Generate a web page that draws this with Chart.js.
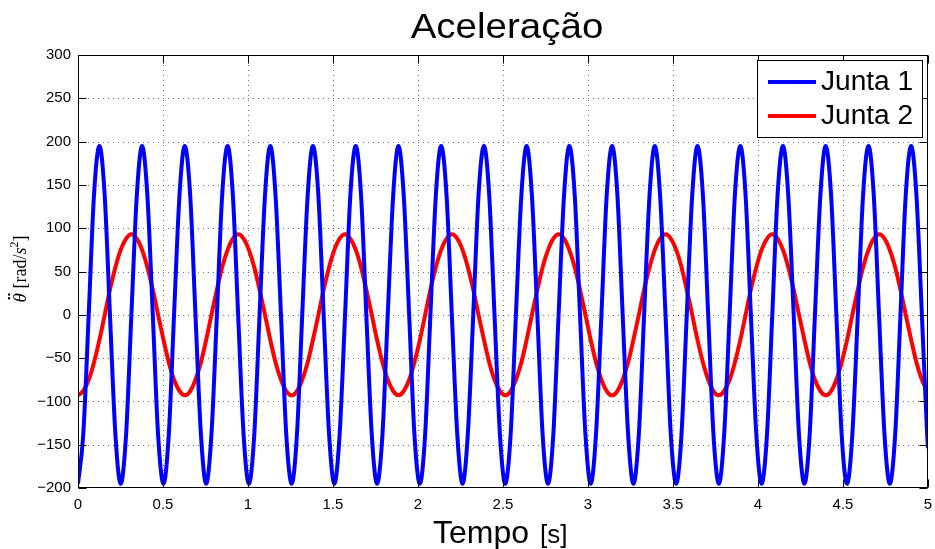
<!DOCTYPE html>
<html>
<head>
<meta charset="utf-8">
<title>Aceleração</title>
<script src="https://cdn.jsdelivr.net/npm/chart.js"></script>
<style>
  html, body { margin: 0; padding: 0; background: #fff; }
  #chart { display: block; }
</style>
</head>
<body>
<canvas id="chart" width="935" height="549"></canvas>
<script>
const time = [
  0.000, 0.031, 0.063, 0.094, 0.126, 0.157, 0.188, 0.220, 0.251, 0.283,
  0.314, 0.346, 0.377, 0.408, 0.440, 0.471, 0.503, 0.534, 0.565, 0.597,
  0.628, 0.660, 0.691, 0.723, 0.754, 0.785, 0.817, 0.848, 0.880, 0.911,
  0.942, 0.974, 1.005, 1.037, 1.068, 1.100, 1.131, 1.162, 1.194, 1.225,
  1.257, 1.288, 1.319, 1.351, 1.382, 1.414, 1.445, 1.477, 1.508, 1.539,
  1.571, 1.602, 1.634, 1.665, 1.696, 1.728, 1.759, 1.791, 1.822, 1.854,
  1.885, 1.916, 1.948, 1.979, 2.011, 2.042, 2.073, 2.105, 2.136, 2.168,
  2.199, 2.231, 2.262, 2.293, 2.325, 2.356, 2.388, 2.419, 2.450, 2.482,
  2.513, 2.545, 2.576, 2.608, 2.639, 2.670, 2.702, 2.733, 2.765, 2.796,
  2.827, 2.859, 2.890, 2.922, 2.953, 2.985, 3.016, 3.047, 3.079, 3.110,
  3.142, 3.173, 3.204, 3.236, 3.267, 3.299, 3.330, 3.362, 3.393, 3.424,
  3.456, 3.487, 3.519, 3.550, 3.581, 3.613, 3.644, 3.676, 3.707, 3.738,
  3.770, 3.801, 3.833, 3.864, 3.896, 3.927, 3.958, 3.990, 4.021, 4.053,
  4.084, 4.115, 4.147, 4.178, 4.210, 4.241, 4.273, 4.304, 4.335, 4.367,
  4.398, 4.430, 4.461, 4.492, 4.524, 4.555, 4.587, 4.618, 4.650, 4.681,
  4.712, 4.744, 4.775, 4.807, 4.838, 4.869, 4.901, 4.932, 4.964, 4.995,
  5.000
];

// Junta 1 (blue)
const junta1 = [
  -195, -138, 0, 138, 195, 138, 0, -138,
  -195, -138, 0, 138, 195, 138, 0, -138,
  -195, -138, 0, 138, 195, 138, 0, -138,
  -195, -138, 0, 138, 195, 138, 0, -138,
  -195, -138, 0, 138, 195, 138, 0, -138,
  -195, -138, 0, 138, 195, 138, 0, -138,
  -195, -138, 0, 138, 195, 138, 0, -138,
  -195, -138, 0, 138, 195, 138, 0, -138,
  -195, -138, 0, 138, 195, 138, 0, -138,
  -195, -138, 0, 138, 195, 138, 0, -138,
  -195, -138, 0, 138, 195, 138, 0, -138,
  -195, -138, 0, 138, 195, 138, 0, -138,
  -195, -138, 0, 138, 195, 138, 0, -138,
  -195, -138, 0, 138, 195, 138, 0, -138,
  -195, -138, 0, 138, 195, 138, 0, -138,
  -195, -138, 0, 138, 195, 138, 0, -138,
  -195, -138, 0, 138, 195, 138, 0, -138,
  -195, -138, 0, 138, 195, 138, 0, -138,
  -195, -138, 0, 138, 195, 138, 0, -138,
  -195, -138, 0, 138, 195, 138, 0, -138,
  -154
];

// Junta 2 (red)
const junta2 = [
  -93, -88, -75, -55, -29, 0, 29, 55, 75, 88, 93, 88, 75, 55, 29, 0, -29, -55, -75, -88,
  -93, -88, -75, -55, -29, 0, 29, 55, 75, 88, 93, 88, 75, 55, 29, 0, -29, -55, -75, -88,
  -93, -88, -75, -55, -29, 0, 29, 55, 75, 88, 93, 88, 75, 55, 29, 0, -29, -55, -75, -88,
  -93, -88, -75, -55, -29, 0, 29, 55, 75, 88, 93, 88, 75, 55, 29, 0, -29, -55, -75, -88,
  -93, -88, -75, -55, -29, 0, 29, 55, 75, 88, 93, 88, 75, 55, 29, 0, -29, -55, -75, -88,
  -93, -88, -75, -55, -29, 0, 29, 55, 75, 88, 93, 88, 75, 55, 29, 0, -29, -55, -75, -88,
  -93, -88, -75, -55, -29, 0, 29, 55, 75, 88, 93, 88, 75, 55, 29, 0, -29, -55, -75, -88,
  -93, -88, -75, -55, -29, 0, 29, 55, 75, 88, 93, 88, 75, 55, 29, 0, -29, -55, -75, -88,
  -90
];

const seriesNames = ['Junta 1', 'Junta 2'];
const seriesColors = ['#0000ff', '#ff0000'];
const xTicks = [0, 0.5, 1, 1.5, 2, 2.5, 3, 3.5, 4, 4.5, 5];
const yTicks = [-200, -150, -100, -50, 0, 50, 100, 150, 200, 250, 300];

const SANS = '"Liberation Sans", Arial, Helvetica, sans-serif';
const SERIF = '"Liberation Serif", "Times New Roman", serif';

// ── helpers
function stretchedText(ctx, txt, x, y, sx, align) {
  ctx.save();
  ctx.translate(x, y);
  ctx.scale(sx, 1);
  ctx.textAlign = align || 'left';
  ctx.fillText(txt, 0, 0);
  ctx.restore();
}

// ── grid behind the curves (MATLAB dotted grid)
const gridPlugin = {
  id: 'matlabGrid',
  beforeDatasetsDraw(chart) {
    const { ctx, chartArea: a, scales: { x, y } } = chart;
    ctx.save();
    ctx.strokeStyle = 'rgba(0,0,0,0.55)';
    ctx.lineWidth = 1;
    ctx.setLineDash([1, 4]);
    xTicks.forEach(v => {
      const px = Math.round(x.getPixelForValue(v)) + 0.5;
      if (px <= a.left + 1 || px >= a.right - 1) return;
      ctx.beginPath(); ctx.moveTo(px, a.top); ctx.lineTo(px, a.bottom); ctx.stroke();
    });
    yTicks.forEach(v => {
      const py = Math.round(y.getPixelForValue(v)) + 0.5;
      if (py <= a.top + 1 || py >= a.bottom - 1) return;
      ctx.beginPath(); ctx.moveTo(a.left, py); ctx.lineTo(a.right, py); ctx.stroke();
    });
    ctx.restore();
  }
};

// ── box, inside ticks, title, axis labels, legend
const decorPlugin = {
  id: 'matlabDecor',
  afterDatasetsDraw(chart) {
    const { ctx, chartArea: a, scales: { x, y } } = chart;
    const L = Math.round(a.left) + 0.5, R = Math.round(a.right) - 0.5;
    const T = Math.round(a.top) + 0.5, B = Math.round(a.bottom) - 0.5;
    ctx.save();
    ctx.strokeStyle = '#000';
    ctx.lineWidth = 1;
    ctx.setLineDash([]);

    // inside tick marks
    const tl = 8;
    xTicks.forEach(v => {
      const px = Math.round(x.getPixelForValue(v)) + 0.5;
      ctx.beginPath();
      ctx.moveTo(px, B); ctx.lineTo(px, B - tl);
      ctx.moveTo(px, T); ctx.lineTo(px, T + tl);
      ctx.stroke();
    });
    yTicks.forEach(v => {
      const py = Math.round(y.getPixelForValue(v)) + 0.5;
      ctx.beginPath();
      ctx.moveTo(L, py); ctx.lineTo(L + tl, py);
      ctx.moveTo(R, py); ctx.lineTo(R - tl, py);
      ctx.stroke();
    });

    // axes box
    ctx.strokeRect(L, T, R - L, B - T);

    // title
    ctx.fillStyle = '#000';
    ctx.textBaseline = 'alphabetic';
    ctx.font = '35px ' + SANS;
    stretchedText(ctx, 'Aceleração', 507, 38, 1.1, 'center');

    // x label
    ctx.font = '32px ' + SANS;
    ctx.textAlign = 'left';
    ctx.fillText('Tempo', 433, 543);
    ctx.font = '26px ' + SANS;
    ctx.fillText('[s]', 540, 543);

    // y label (rotated)
    ctx.save();
    ctx.translate(26, 269);
    ctx.rotate(-Math.PI / 2);
    const parts = [
      { t: 'θ', f: 'italic 19px ' + SERIF, dy: 0 },
      { t: ' [rad/', f: '18px ' + SERIF, dy: 0 },
      { t: 's', f: 'italic 18px ' + SERIF, dy: 0 },
      { t: '2', f: '12px ' + SERIF, dy: -8 },
      { t: ']', f: '18px ' + SERIF, dy: 0 }
    ];
    let total = 0;
    parts.forEach(p => { ctx.font = p.f; p.w = ctx.measureText(p.t).width; total += p.w; });
    let cx = -total / 2;
    ctx.textAlign = 'left';
    parts.forEach((p, i) => {
      ctx.font = p.f;
      ctx.fillText(p.t, cx, p.dy);
      if (i === 0) {
        // double dot over theta
        ctx.beginPath();
        ctx.arc(cx + p.w * 0.45, -17, 1.2, 0, Math.PI * 2);
        ctx.arc(cx + p.w * 0.85, -17, 1.2, 0, Math.PI * 2);
        ctx.fill();
      }
      cx += p.w;
    });
    ctx.restore();

    // legend
    const lx = 757.5, ly = 60.5, lw = 165, lh = 77;
    ctx.fillStyle = '#fff';
    ctx.fillRect(lx, ly, lw, lh);
    ctx.strokeStyle = '#000';
    ctx.lineWidth = 1;
    ctx.strokeRect(lx, ly, lw, lh);
    const rows = [82, 116];
    ctx.font = '27px ' + SANS;
    ctx.textBaseline = 'middle';
    seriesNames.forEach((name, i) => {
      ctx.strokeStyle = seriesColors[i];
      ctx.lineWidth = 4;
      ctx.beginPath();
      ctx.moveTo(768, rows[i]); ctx.lineTo(816, rows[i]);
      ctx.stroke();
      ctx.fillStyle = '#000';
      stretchedText(ctx, name, 821, rows[i] + 1, 1.04, 'left');
    });
    ctx.restore();
  }
};

const seriesValues = [junta1, junta2];

new Chart(document.getElementById('chart'), {
  type: 'line',
  data: {
    datasets: seriesNames.map((name, i) => ({
      label: name,
      data: time.map((t, k) => ({ x: t, y: seriesValues[i][k] })),
      borderColor: seriesColors[i],
      borderWidth: 4,
      pointRadius: 0,
      fill: false,
      cubicInterpolationMode: 'monotone'
    }))
  },
  options: {
    responsive: false,
    animation: false,
    devicePixelRatio: 1,
    layout: { padding: { top: 55, right: 7, left: 0, bottom: 0 } },
    plugins: {
      legend: { display: false },
      title: { display: false },
      tooltip: { enabled: false }
    },
    scales: {
      x: {
        type: 'linear',
        min: 0,
        max: 5,
        afterBuildTicks: s => { s.ticks = xTicks.map(v => ({ value: v })); },
        afterFit: s => { s.height = 61; s.paddingLeft = 0; s.paddingRight = 0; },
        grid: { display: false, drawTicks: false },
        border: { display: false },
        ticks: {
          color: '#000',
          font: { family: SANS, size: 15 },
          padding: 8,
          maxRotation: 0,
          callback: v => String(v)
        }
      },
      y: {
        type: 'linear',
        min: -200,
        max: 300,
        afterBuildTicks: s => { s.ticks = yTicks.map(v => ({ value: v })); },
        afterFit: s => { s.width = 78; s.paddingTop = 0; s.paddingBottom = 0; },
        grid: { display: false, drawTicks: false },
        border: { display: false },
        ticks: {
          color: '#000',
          font: { family: SANS, size: 15 },
          padding: 7,
          callback: v => String(v).replace('-', '\u2212')
        }
      }
    }
  },
  plugins: [gridPlugin, decorPlugin]
});
</script>
</body>
</html>
